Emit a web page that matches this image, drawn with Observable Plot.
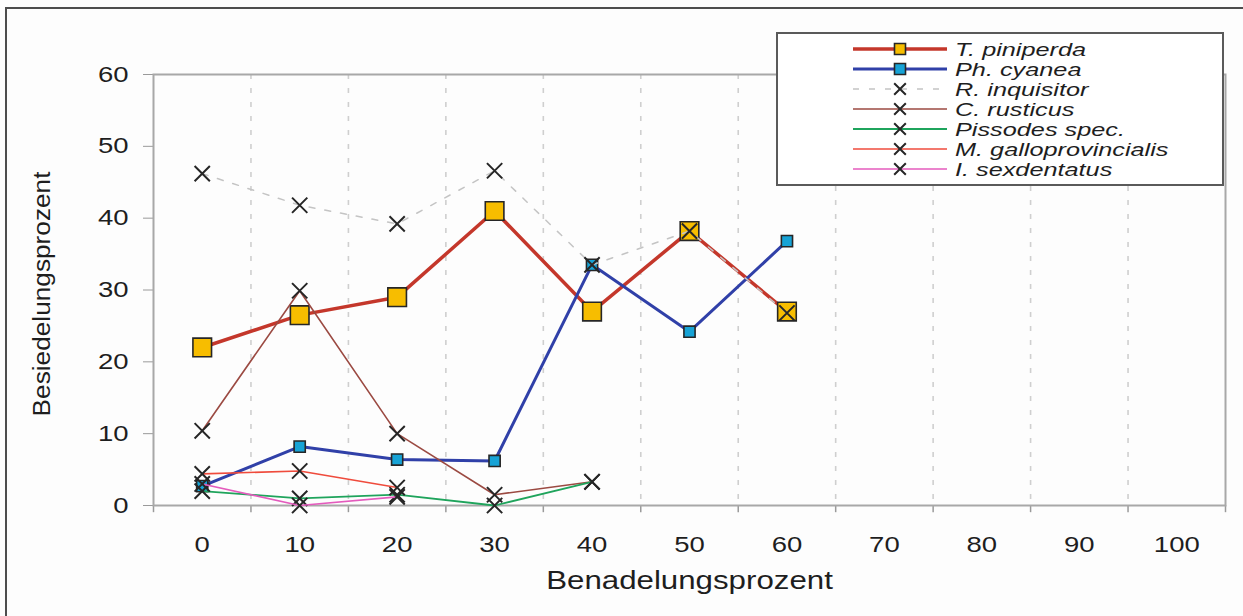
<!DOCTYPE html>
<html><head><meta charset="utf-8">
<script src="https://cdn.jsdelivr.net/npm/d3@7"></script>
<script src="https://cdn.jsdelivr.net/npm/@observablehq/plot@0.6"></script>
<style>
html,body{margin:0;padding:0;background:#fff;}
#wrap{position:relative;width:1243px;height:616px;overflow:hidden;background:#fdfdfd;font-family:"Liberation Sans",Arial,sans-serif;}
#outer{position:absolute;left:5px;top:7px;width:1400px;height:800px;border-top:2px solid #4d4d4d;border-left:2px solid #4d4d4d;}
#chart{position:absolute;left:0;top:0;}
#legend{position:absolute;left:776px;top:32px;}
</style></head><body>
<div id="wrap"><div id="outer"></div><div id="chart"></div><div id="legend"></div></div>
<script>
// ---- data ----
const xCategories = [0, 10, 20, 30, 40, 50, 60, 70, 80, 90, 100];
const yTicks = [0, 10, 20, 30, 40, 50, 60];
const xTitle = "Benadelungsprozent";
const yTitle = "Besiedelungsprozent";
const seriesNames = ["T. piniperda", "Ph. cyanea", "R. inquisitor", "C. rusticus", "Pissodes spec.", "M. galloprovincialis", "I. sexdentatus"];
const tPiniperda = [22.0, 26.5, 29.0, 41.0, 27.0, 38.2, 27.0];
const phCyanea = [2.7, 8.2, 6.4, 6.2, 33.5, 24.2, 36.8];
const rInquisitor = [46.2, 41.8, 39.2, 46.6, 33.5, 38.2, 26.8];
const cRusticus = [10.4, 29.9, 10.0, 1.5, 3.3];
const pissodesSpec = [2.0, 1.0, 1.5, 0.0, 3.3];
const mGalloprovincialis = [4.4, 4.8, 2.5];
const iSexdentatus = [3.0, 0.0, 1.2];

// ---- styles ----
const seriesValues = [tPiniperda, phCyanea, rInquisitor, cRusticus, pissodesSpec, mGalloprovincialis, iSexdentatus];
const styles = [
  {stroke: "#c4372b", width: 3.5, symbol: "square", r: 10.5, fill: "#f7bd00", legendSize: 121},
  {stroke: "#3040a8", width: 3, symbol: "square", r: 6.3, fill: "#17a3d6", legendSize: 121},
  {stroke: "#c4c4c4", width: 1.5, dash: "6,10", symbol: "times", r: 7, fill: "none", legendSize: 90},
  {stroke: "#9b4a42", width: 1.6, symbol: "times", r: 7, fill: "none", legendSize: 90},
  {stroke: "#1fa45c", width: 1.8, symbol: "times", r: 7, fill: "none", legendSize: 90},
  {stroke: "#ef4b3c", width: 1.6, symbol: "times", r: 7, fill: "none", legendSize: 90},
  {stroke: "#e45bbd", width: 1.6, symbol: "times", r: 7, fill: "none", legendSize: 90}
];

const rows = seriesNames.flatMap((name, i) => seriesValues[i].map((v, j) => ({series: name, x: xCategories[j], y: v})));
const xEdges = xCategories.map(v => v - 5).concat([xCategories[xCategories.length - 1] + 5]);
const gridEdges = xEdges.slice(1, -1);

const seriesMarks = seriesNames.flatMap((name, i) => {
  const st = styles[i];
  const d = rows.filter(r => r.series === name);
  return [
    Plot.line(d, {x: "x", y: "y", stroke: st.stroke, strokeWidth: st.width, strokeDasharray: st.dash, strokeLinejoin: "round"}),
    Plot.dot(d, {x: "x", y: "y", symbol: st.symbol, r: st.r, fill: st.fill, stroke: "#262626", strokeWidth: st.symbol === "times" ? 2 : 1.6})
  ];
});

const chart = Plot.plot({
  width: 1243,
  height: 616,
  marginLeft: 153,
  marginRight: 18,
  marginTop: 74,
  marginBottom: 111,
  style: {background: "none", color: "#9a9a9a", fontFamily: "'Liberation Sans', Arial, sans-serif", fontSize: "22px"},
  x: {type: "linear", domain: [xEdges[0], xEdges[xEdges.length - 1]], ticks: xCategories, tickSize: 0, tickPadding: 31, tickFormat: d => String(d), label: null},
  y: {domain: [0, 60], ticks: yTicks, tickSize: 10, tickPadding: 15, tickFormat: d => String(d), label: null},
  marks: [
    Plot.ruleX(gridEdges, {stroke: "#cfcfcf", strokeWidth: 1.6, strokeDasharray: "5,9"}),
    Plot.ruleX(xEdges, {y1: 0, y2: -1, stroke: "#9a9a9a", strokeWidth: 1.5}),
    Plot.frame({stroke: "#a8a8a8", strokeWidth: 2}),
    ...seriesMarks,
    Plot.text([yTitle], {text: d => d, frameAnchor: "left", textAnchor: "middle", dx: -111, dy: 4, rotate: -90, fontSize: 23, fill: "#1e1e1e"}),
    Plot.text([xTitle], {text: d => d, frameAnchor: "bottom", textAnchor: "middle", dy: 83, fontSize: 25, fill: "#1e1e1e"})
  ]
});
document.getElementById("chart").appendChild(chart);

function stretch(t, k) {
  const L = t.getComputedTextLength();
  if (L > 0) {
    t.setAttribute("textLength", (L * k).toFixed(1));
    t.setAttribute("lengthAdjust", "spacingAndGlyphs");
  }
}
chart.querySelectorAll("text").forEach(t => {
  t.setAttribute("fill", "#1e1e1e");
  stretch(t, t.textContent === yTitle ? 1.14 : 1.25);
});

// ---- legend ----
const lg = d3.select("#legend").append("svg").attr("width", 449).attr("height", 155);
lg.append("rect").attr("x", 1).attr("y", 1).attr("width", 446).attr("height", 152)
  .attr("fill", "#fff").attr("stroke", "#5a5a5a").attr("stroke-width", 2);
seriesNames.forEach((name, i) => {
  const st = styles[i];
  const y = 17 + i * 20;
  lg.append("line").attr("x1", 77).attr("x2", 171).attr("y1", y).attr("y2", y)
    .attr("stroke", st.stroke).attr("stroke-width", st.width)
    .attr("stroke-dasharray", st.dash || null);
  lg.append("path")
    .attr("transform", `translate(124,${y})`)
    .attr("d", d3.symbol(st.symbol === "square" ? d3.symbolSquare : d3.symbolTimes, st.legendSize)())
    .attr("fill", st.fill).attr("stroke", "#262626").attr("stroke-width", st.symbol === "times" ? 2 : 1.6);
  const t = lg.append("text").attr("x", 179).attr("y", y).attr("dy", "0.36em")
    .attr("font-style", "italic").attr("font-size", 19).attr("fill", "#1e1e1e")
    .attr("font-family", "'Liberation Sans', Arial, sans-serif").text(name);
  stretch(t.node(), 1.33);
});
</script>
</body></html>
